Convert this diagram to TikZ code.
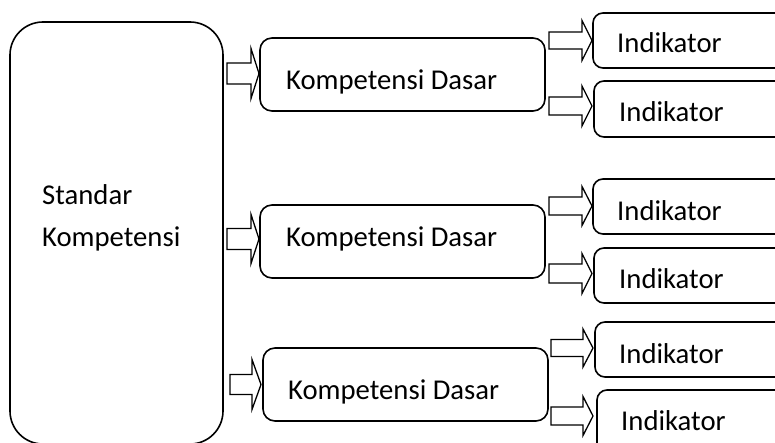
\documentclass[tikz,border=0pt]{standalone}
\usepackage{fontspec}
\setmainfont{Carlito}
\tikzset{
  bigbox/.style={draw, line width=1.6pt, rounded corners=33pt, minimum width=213pt, minimum height=422pt, inner sep=0pt},
  kdbox/.style={draw, line width=1.6pt, rounded corners=12pt, minimum width=285pt, minimum height=73pt, inner sep=0pt},
  indbox/.style={draw, line width=1.6pt, rounded corners=10pt, inner sep=0pt},
  lbl/.style={anchor=base west, inner sep=0pt, font=\fontsize{28.7}{42}\selectfont},
  arrowline/.style={draw, line width=1.3pt, fill=white, line join=miter},
}
\newcommand\barr[6]{% x0 x1 xtip yc shafthalf headhalf
  \draw[arrowline] (#1,#4-#5) -- (#2,#4-#5) -- (#2,#4-#6) -- (#3,#4) -- (#2,#4+#6) -- (#2,#4+#5) -- (#1,#4+#5) -- cycle;}
\begin{document}
\begin{tikzpicture}[x=1pt,y=-1pt]
\useasboundingbox (0,0) rectangle (775,443);
\clip (0,0) rectangle (775,443);
% main boxes
\node[bigbox] (sk) at (116.5,233) {};
\node[kdbox] (kd1) at (402.5,74.5) {};
\node[kdbox] (kd2) at (402.5,241.5) {};
\node[kdbox] (kd3) at (405.5,384.5) {};
% indikator boxes (extend past right edge)
\draw[indbox] (593,13) rectangle (805,68) node[pos=0,inner sep=0pt] (i1) {};
\draw[indbox] (594,81) rectangle (805,137) node[pos=0,inner sep=0pt] (i2) {};
\draw[indbox] (593,179) rectangle (805,234) node[pos=0,inner sep=0pt] (i3) {};
\draw[indbox] (594,248) rectangle (805,303) node[pos=0,inner sep=0pt] (i4) {};
\draw[indbox] (595,322) rectangle (805,377) node[pos=0,inner sep=0pt] (i5) {};
\draw[indbox] (597,390) rectangle (805,460) node[pos=0,inner sep=0pt] (i6) {};
% labels
\node[lbl] (t1) at (42,205) {Standar};
\node[lbl] (t2) at (42,247) {Kompetensi};
\node[lbl] (k1) at (286,90) {Kompetensi Dasar};
\node[lbl] (k2) at (286,247) {Kompetensi Dasar};
\node[lbl] (k3) at (288,399) {Kompetensi Dasar};
\node[lbl] (l1) at (617,53) {Indikator};
\node[lbl] (l2) at (619,122) {Indikator};
\node[lbl] (l3) at (617,221) {Indikator};
\node[lbl] (l4) at (619,288) {Indikator};
\node[lbl] (l5) at (619,363) {Indikator};
\node[lbl] (l6) at (621,430) {Indikator};
% block arrows: standar -> KD
\barr{227}{251}{259}{73.5}{10.5}{25}
\barr{227}{251}{259}{239}{10.5}{24.5}
\barr{230}{252}{261}{384.5}{10}{25}
% block arrows: KD -> indikator
\barr{549}{582}{592}{40.5}{8.5}{20}
\barr{549}{582}{592}{106}{9}{20}
\barr{549}{582}{592}{206}{9}{19.5}
\barr{549}{582}{592}{273.5}{9.5}{20}
\barr{551}{583}{593}{348}{8.5}{19}
\barr{551}{583}{593}{416}{9}{19.5}
\end{tikzpicture}
\end{document}
